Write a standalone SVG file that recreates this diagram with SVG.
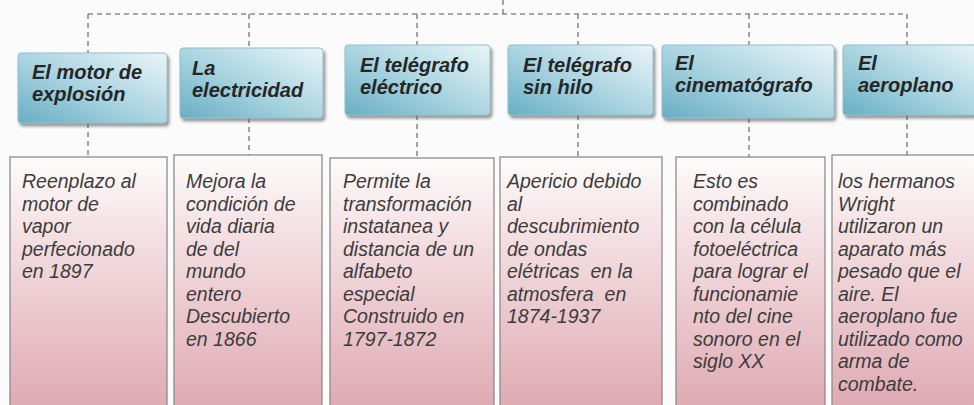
<svg xmlns="http://www.w3.org/2000/svg" width="974" height="405" viewBox="0 0 974 405">
<defs>
<linearGradient id="hg" x1="0" y1="1" x2="1" y2="0">
<stop offset="0" stop-color="#68aec4"/>
<stop offset="0.45" stop-color="#a6d2df"/>
<stop offset="1" stop-color="#eaf5f8"/>
</linearGradient>
<linearGradient id="bg" x1="0" y1="0" x2="0" y2="1">
<stop offset="0" stop-color="#fdfbfb"/>
<stop offset="0.3" stop-color="#f4e0e3"/>
<stop offset="1" stop-color="#dea7b0"/>
</linearGradient>
<filter id="sh" x="-10%" y="-10%" width="125%" height="135%">
<feDropShadow dx="2" dy="3" stdDeviation="1.8" flood-color="#555" flood-opacity="0.6"/>
</filter>
<style>
.hb{fill:url(#hg);stroke:#8fc0cf;stroke-width:1;filter:url(#sh)}
.bb{fill:url(#bg);stroke:#8c8c8c;stroke-width:1.3}
.ht{font-family:"Liberation Sans",Arial,sans-serif;font-size:20px;font-weight:bold;font-style:italic;fill:#262626}
.bt{font-family:"Liberation Sans",Arial,sans-serif;font-size:19.5px;font-style:italic;fill:#3c3c3c}
.cn{fill:none;stroke:#a0838a;stroke-width:1.6;stroke-dasharray:5 4}
</style>
</defs>
<rect width="974" height="405" fill="#fbfbfb"/>
<g id="connectors">
<path class="cn" d="M503 0V14"/>
<path class="cn" d="M88 14H907"/>
<path class="cn" d="M88 14V53M88 123V157"/>
<path class="cn" d="M249 14V48M249 118V155"/>
<path class="cn" d="M417 14V45M417 115V158"/>
<path class="cn" d="M578 14V45M578 115V157"/>
<path class="cn" d="M749 14V45M749 118V157"/>
<path class="cn" d="M907 14V45M907 115V155"/>
</g>
<g id="h1"><rect class="hb" x="18" y="53" width="149" height="70" rx="3"/><text class="ht" x="32" y="79">El motor de<tspan x="32" y="101">explosión</tspan></text></g>
<g id="h2"><rect class="hb" x="180" y="48" width="143" height="70" rx="3"/><text class="ht" x="192" y="75">La<tspan x="192" y="97">electricidad</tspan></text></g>
<g id="h3"><rect class="hb" x="345" y="45" width="145" height="70" rx="3"/><text class="ht" x="360" y="72">El telégrafo<tspan x="360" y="94">eléctrico</tspan></text></g>
<g id="h4"><rect class="hb" x="508" y="45" width="145" height="70" rx="3"/><text class="ht" x="523" y="72">El telégrafo<tspan x="523" y="94">sin hilo</tspan></text></g>
<g id="h5"><rect class="hb" x="662" y="45" width="172" height="73" rx="3"/><text class="ht" x="675" y="70">El<tspan x="675" y="92">cinematógrafo</tspan></text></g>
<g id="h6"><rect class="hb" x="843" y="45" width="140" height="70" rx="3"/><text class="ht" x="858" y="70">El<tspan x="858" y="92">aeroplano</tspan></text></g>
<g id="b1"><rect class="bb" x="10" y="157" width="157" height="260"/><text class="bt"><tspan x="22" y="188">Reenplazo al</tspan><tspan x="22" y="210.5">motor de</tspan><tspan x="22" y="233">vapor</tspan><tspan x="22" y="255.5">perfecionado</tspan><tspan x="22" y="278">en 1897</tspan></text></g>
<g id="b2"><rect class="bb" x="174" y="155" width="148" height="262"/><text class="bt"><tspan x="186" y="188">Mejora la</tspan><tspan x="186" y="210.5">condición de</tspan><tspan x="186" y="233">vida diaria</tspan><tspan x="186" y="255.5">de del</tspan><tspan x="186" y="278">mundo</tspan><tspan x="186" y="300.5">entero</tspan><tspan x="186" y="323">Descubierto</tspan><tspan x="186" y="345.5">en 1866</tspan></text></g>
<g id="b3"><rect class="bb" x="330" y="158" width="164" height="259"/><text class="bt"><tspan x="343" y="188">Permite la</tspan><tspan x="343" y="210.5">transformación</tspan><tspan x="343" y="233">instatanea y</tspan><tspan x="343" y="255.5">distancia de un</tspan><tspan x="343" y="278">alfabeto</tspan><tspan x="343" y="300.5">especial</tspan><tspan x="343" y="323">Construido en</tspan><tspan x="343" y="345.5">1797-1872</tspan></text></g>
<g id="b4"><rect class="bb" x="500" y="157" width="162" height="260"/><text class="bt" xml:space="preserve"><tspan x="507" y="188">Apericio debido</tspan><tspan x="507" y="210.5">al</tspan><tspan x="507" y="233">descubrimiento</tspan><tspan x="507" y="255.5">de ondas</tspan><tspan x="507" y="278">elétricas  en la</tspan><tspan x="507" y="300.5">atmosfera  en</tspan><tspan x="507" y="323">1874-1937</tspan></text></g>
<g id="b5"><rect class="bb" x="676" y="157" width="149" height="260"/><text class="bt"><tspan x="693" y="188">Esto es</tspan><tspan x="693" y="210.5">combinado</tspan><tspan x="693" y="233">con la célula</tspan><tspan x="693" y="255.5">fotoeléctrica</tspan><tspan x="693" y="278">para lograr el</tspan><tspan x="693" y="300.5">funcionamie</tspan><tspan x="693" y="323">nto del cine</tspan><tspan x="693" y="345.5">sonoro en el</tspan><tspan x="693" y="368">siglo XX</tspan></text></g>
<g id="b6"><rect class="bb" x="832" y="155" width="160" height="262"/><text class="bt"><tspan x="838" y="188">los hermanos</tspan><tspan x="838" y="210.5">Wright</tspan><tspan x="838" y="233">utilizaron un</tspan><tspan x="838" y="255.5">aparato más</tspan><tspan x="838" y="278">pesado que el</tspan><tspan x="838" y="300.5">aire. El</tspan><tspan x="838" y="323">aeroplano fue</tspan><tspan x="838" y="345.5">utilizado como</tspan><tspan x="838" y="368">arma de</tspan><tspan x="838" y="390.5">combate.</tspan></text></g>
</svg>
